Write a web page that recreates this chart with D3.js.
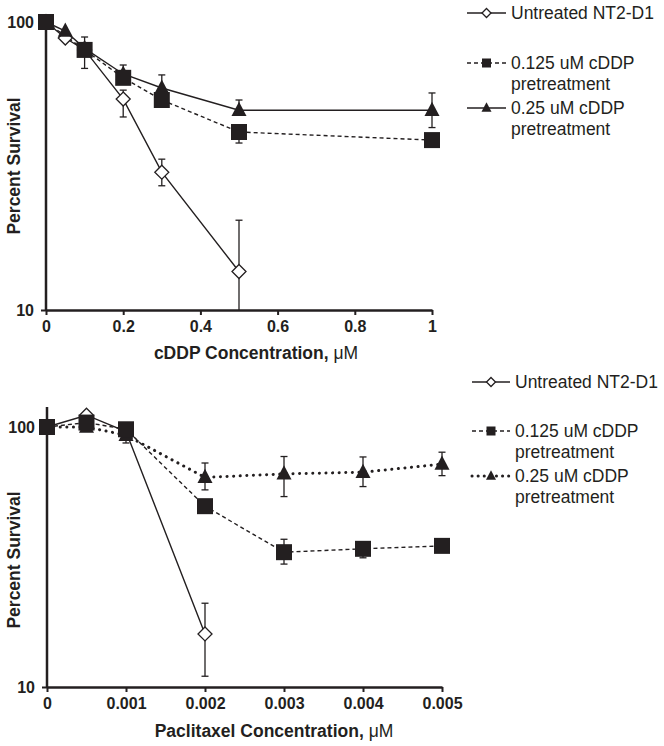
<!DOCTYPE html>
<html><head><meta charset="utf-8">
<script src="https://cdn.jsdelivr.net/npm/d3@7"></script>
<style>
body{margin:0;background:#fff;}
text{font-family:"Liberation Sans",Arial,sans-serif;fill:#231f20;}
</style></head>
<body><svg id="c" width="664" height="746"></svg>
<script>
// ---- Series names ----
const nameUntr = "Untreated NT2-D1";
const nameLow = ["0.125 uM cDDP", "pretreatment"];
const nameHigh = ["0.25 uM cDDP", "pretreatment"];
// ---- Panel A: cDDP ----
const aUntrX = [0, 0.05, 0.1, 0.2, 0.3, 0.5];
const aUntrY = [100, 88, 80, 54, 30.1, 13.6];
const aUntrHi = [null, null, null, 58, 33.4, 20.5];
const aUntrLo = [null, null, null, 46.8, 27, 10];
const aSqX = [0, 0.1, 0.2, 0.3, 0.5, 1];
const aSqY = [100, 80, 64, 53.6, 41.5, 38.9];
const aSqHi = [null, 88.7, null, null, null, null];
const aSqLo = [null, 69, null, null, 38, null];
const aTriX = [0, 0.05, 0.1, 0.2, 0.3, 0.5, 1];
const aTriY = [100, 93, 81, 66, 59, 49.4, 49.4];
const aTriHi = [null, null, null, 70.9, 65.5, 53.6, 56.7];
const aTriLo = [null, null, null, null, null, null, 43];
const aXTicks = [0, 0.2, 0.4, 0.6, 0.8, 1];
const aXTickLabels = ["0", "0.2", "0.4", "0.6", "0.8", "1"];
// ---- Panel B: Paclitaxel ----
const bUntrX = [0, 0.0005, 0.001, 0.002];
const bUntrY = [100, 111, 96, 16];
const bUntrHi = [null, null, null, 21];
const bUntrLo = [null, null, null, 11];
const bSqX = [0, 0.0005, 0.001, 0.002, 0.003, 0.004, 0.005];
const bSqY = [100, 104, 98, 49.6, 33, 34, 34.9];
const bSqHi = [null, null, null, null, 37, 35.5, null];
const bSqLo = [null, null, null, null, 29.7, 31.4, null];
const bTriX = [0, 0.0005, 0.001, 0.002, 0.003, 0.004, 0.005];
const bTriY = [100, 100, 93, 64, 66, 67, 72];
const bTriHi = [null, null, null, 72.7, 77, 76.7, 80];
const bTriLo = [null, null, 86.8, 57.3, 54, 59, 65];
const bXTicks = [0, 0.001, 0.002, 0.003, 0.004, 0.005];
const bXTickLabels = ["0", "0.001", "0.002", "0.003", "0.004", "0.005"];
const yTicks = [10, 100];
const yLabel = "Percent Survival";
const aXTitle = "cDDP Concentration, ";
const bXTitle = "Paclitaxel Concentration, ";
const unitMu = "\u03bcM";

const svg = d3.select("#c");
const ink = "#231f20";

function zip(xs, ys, hi, lo){ return xs.map((x,i)=>({x, y:ys[i], hi:hi[i], lo:lo[i]})); }

function panel(cfg){
  const g = svg.append("g");
  const x = d3.scaleLinear().domain(cfg.xDomain).range(cfg.xRange);
  const y = d3.scaleLog().domain([10,100]).range(cfg.yRange);
  const ya = g.append("g").attr("transform",`translate(${cfg.xRange[0]},0)`)
    .call(d3.axisLeft(y).tickValues(yTicks).tickFormat(d3.format("d")).tickSize(5).tickSizeOuter(0).tickPadding(7));
  ya.select(".domain").remove();
  g.append("line").attr("x1",cfg.xRange[0]).attr("x2",cfg.xRange[0])
    .attr("y1",cfg.yRange[0]).attr("y2",cfg.yTop).attr("stroke",ink).attr("stroke-width",2.5);
  const xa = g.append("g").attr("transform",`translate(0,${cfg.yRange[0]})`)
    .call(d3.axisBottom(x).tickValues(cfg.xTicks).tickFormat((d,i)=>cfg.xTickLabels[i]).tickSize(5).tickSizeOuter(0).tickPadding(6));
  xa.select(".domain").attr("stroke",ink).attr("stroke-width",2.5);
  [ya,xa].forEach(a=>{
    a.selectAll(".tick line").attr("stroke",ink).attr("stroke-width",2);
    a.selectAll(".tick text").attr("font-size",16).attr("font-weight","bold").attr("fill",ink)
      .style("font-family","'Liberation Sans',Arial,sans-serif");
  });
  g.append("text").attr("transform",`translate(${cfg.yLabelX},${cfg.yLabelY}) rotate(-90)`)
    .attr("text-anchor","middle").attr("font-size",17.5).attr("font-weight","bold").text(yLabel);
  const t = g.append("text").attr("x",cfg.titleX).attr("y",cfg.titleY).attr("text-anchor","middle")
    .attr("font-size",17.5).attr("font-weight","bold");
  t.append("tspan").text(cfg.xTitle);
  t.append("tspan").attr("font-weight","normal").text(unitMu);

  const line = d3.line().x(d=>x(d.x)).y(d=>y(d.y));
  const series = cfg.series;
  series.forEach(s=>{
    g.append("path").datum(s.data).attr("d",line).attr("fill","none").attr("stroke",ink)
      .attr("stroke-width",s.lw).attr("stroke-dasharray",s.dash).attr("stroke-linecap",s.cap);
  });
  series.forEach(s=>{
    s.data.forEach(d=>{
      [d.hi,d.lo].forEach(v=>{
        if(v==null) return;
        g.append("line").attr("x1",x(d.x)).attr("x2",x(d.x)).attr("y1",y(d.y)).attr("y2",y(v))
          .attr("stroke",ink).attr("stroke-width",1.3);
        if(v>10) g.append("line").attr("x1",x(d.x)-3.5).attr("x2",x(d.x)+3.5).attr("y1",y(v)).attr("y2",y(v))
          .attr("stroke",ink).attr("stroke-width",1.3);
      });
    });
  });
  series.forEach(s=>{
    s.data.forEach(d=>{ drawMarker(g, s.marker, x(d.x), y(d.y), s.size); });
  });
  cfg.legend.forEach(L=>{
    const s = series[L.idx];
    const lg = g.append("g");
    lg.append("line").attr("x1",cfg.legX0).attr("x2",cfg.legX1).attr("y1",L.y).attr("y2",L.y)
      .attr("stroke",ink).attr("stroke-width",s.legLw).attr("stroke-dasharray",s.legDash).attr("stroke-linecap",s.cap);
    drawMarker(lg, s.marker, (cfg.legX0+cfg.legX1)/2, L.y, s.legSize);
    const lines = Array.isArray(s.name) ? s.name : [s.name];
    lines.forEach((txt,j)=>{
      lg.append("text").attr("x",cfg.legX1+5).attr("y",L.y + j*21).attr("dy","0.35em")
        .attr("font-size",17.5).text(txt);
    });
  });
}

function drawMarker(g, type, cx, cy, size){
  if(type==="diamond"){
    const r=size/2;
    g.append("path").attr("d",`M${cx},${cy-r}L${cx+r},${cy}L${cx},${cy+r}L${cx-r},${cy}Z`)
      .attr("fill","#fff").attr("stroke",ink).attr("stroke-width",1.3);
  } else if(type==="square"){
    g.append("rect").attr("x",cx-size/2).attr("y",cy-size/2).attr("width",size).attr("height",size).attr("fill",ink);
  } else {
    const h=size*0.95, w=size;
    g.append("path").attr("d",`M${cx},${cy-h*0.6}L${cx+w/2},${cy+h*0.4}L${cx-w/2},${cy+h*0.4}Z`).attr("fill",ink);
  }
}

panel({
  xDomain:[0,1], xRange:[46,432], yRange:[310,22], yTop:21,
  xTicks:aXTicks, xTickLabels:aXTickLabels,
  yLabelX:20, yLabelY:166, titleX:256, titleY:359, xTitle:aXTitle,
  series:[
    {name:nameUntr, data:zip(aUntrX,aUntrY,aUntrHi,aUntrLo), marker:"diamond", size:14, lw:1.4, dash:null, cap:"butt", legLw:1.4, legDash:null, legSize:9},
    {name:nameHigh, data:zip(aTriX,aTriY,aTriHi,aTriLo), marker:"triangle", size:15, lw:1.4, dash:null, cap:"butt", legLw:1.4, legDash:null, legSize:10},
    {name:nameLow, data:zip(aSqX,aSqY,aSqHi,aSqLo), marker:"square", size:16, lw:1.4, dash:"4,3", cap:"butt", legLw:1.4, legDash:"4,3", legSize:9}
  ],
  legX0:467, legX1:506,
  legend:[{idx:0,y:13},{idx:2,y:63},{idx:1,y:108}]
});

panel({
  xDomain:[0,0.005], xRange:[47,442], yRange:[687,427], yTop:407,
  xTicks:bXTicks, xTickLabels:bXTickLabels,
  yLabelX:20, yLabelY:560, titleX:274, titleY:737, xTitle:bXTitle,
  series:[
    {name:nameUntr, data:zip(bUntrX,bUntrY,bUntrHi,bUntrLo), marker:"diamond", size:14, lw:1.4, dash:null, cap:"butt", legLw:1.4, legDash:null, legSize:9},
    {name:nameHigh, data:zip(bTriX,bTriY,bTriHi,bTriLo), marker:"triangle", size:15, lw:3, dash:"0.1,6.5", cap:"round", legLw:3, legDash:"0.1,6", legSize:10},
    {name:nameLow, data:zip(bSqX,bSqY,bSqHi,bSqLo), marker:"square", size:16, lw:1.4, dash:"4,3", cap:"butt", legLw:1.4, legDash:"4,3", legSize:9}
  ],
  legX0:472, legX1:510,
  legend:[{idx:0,y:382},{idx:2,y:431},{idx:1,y:476}]
});
</script></body></html>
